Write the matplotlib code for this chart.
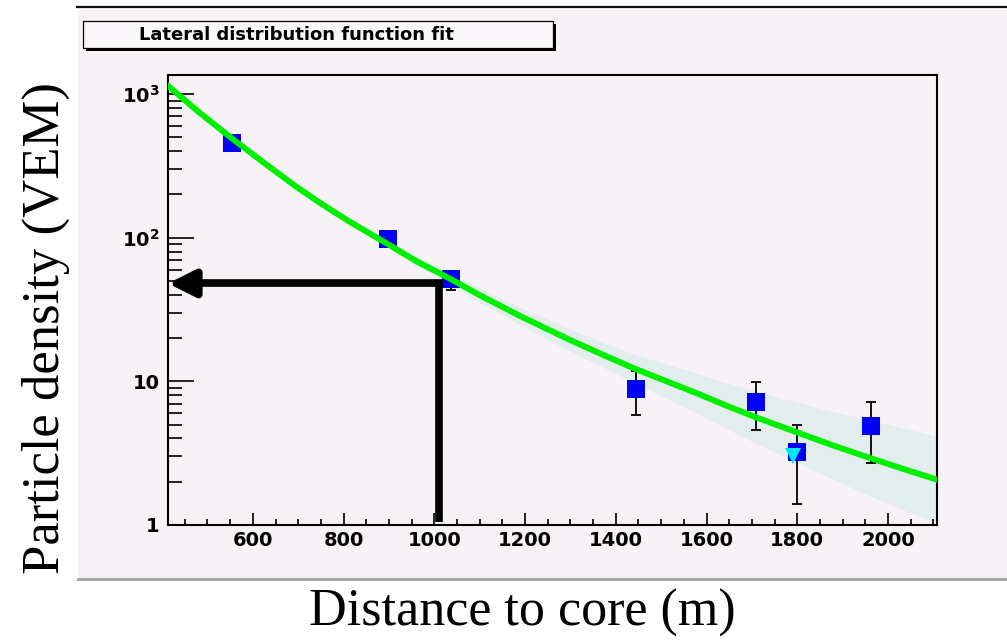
import matplotlib
matplotlib.use('Agg')
import matplotlib.pyplot as plt
from matplotlib.patches import Rectangle
from matplotlib.ticker import MultipleLocator, LogLocator, FixedLocator, FixedFormatter, NullFormatter

# station signals (blue squares) with error limits
dist = [553, 898, 1036, 1445, 1710, 1799, 1962]
signal = [456, 97.8, 51.3, 8.88, 7.21, 3.24, 4.89]
sig_low = [456, 97.8, 43.2, 5.80, 4.56, 1.39, 2.69]
sig_high = [456, 97.8, 58.6, 11.85, 9.84, 4.99, 7.14]

# saturated / special station (cyan triangle)
tri_dist = [1791]
tri_signal = [3.02]

fit_x = [413, 480, 553, 620, 696, 750, 810, 898, 960, 1036, 1100, 1189, 1299, 1380,
         1446, 1585, 1650, 1710, 1799, 1880, 1964, 2040, 2108]
fit_y = [1140, 752, 493, 340, 226, 173, 131, 90, 68.7, 51.5, 39.8, 28.5, 19.4, 14.9,
         12.1, 8.1, 6.65, 5.6, 4.42, 3.57, 2.90, 2.42, 2.07]
band_fac = [1.02, 1.02, 1.03, 1.03, 1.04, 1.04, 1.05, 1.06, 1.08, 1.10, 1.12, 1.15, 1.19, 1.22,
            1.26, 1.38, 1.45, 1.52, 1.62, 1.72, 1.84, 1.93, 2.0]

# S(1000) read-off arrow
arrow_x = 1010
arrow_y = 48

plt.rcParams['mathtext.fontset'] = 'dejavusans'

fig = plt.figure(figsize=(10.07, 6.41), dpi=100)
W, H = 1007.0, 641.0

def fx(px):
    return px / W

def fy(py):
    return 1 - py / H

# grey canvas panel + frame lines
fig.patches.append(Rectangle((fx(78), fy(579)), fx(1007) - fx(78), fy(10) - fy(579),
                             transform=fig.transFigure, facecolor='#f6f2f6', edgecolor='none', zorder=-5))
fig.add_artist(plt.Line2D([fx(77), fx(1007)], [fy(7), fy(7)], color='#111111', lw=1.6))
fig.add_artist(plt.Line2D([fx(78), fx(1007)], [fy(579), fy(579)], color='#a8a8a8', lw=2.2))

# title box with shadow
fig.patches.append(Rectangle((fx(86), fy(51)), fx(556) - fx(86), fy(24) - fy(51),
                             transform=fig.transFigure, facecolor='black', edgecolor='none', zorder=1))
fig.patches.append(Rectangle((fx(83), fy(48)), fx(553) - fx(83), fy(21) - fy(48),
                             transform=fig.transFigure, facecolor='#f9f7f9', edgecolor='black', lw=0.9, zorder=2))
fig.text(fx(296), fy(34.5), 'Lateral distribution function fit', ha='center', va='center',
         fontsize=13, fontweight='bold', family='DejaVu Sans', zorder=3)

ax = fig.add_axes([fx(168), fy(525), fx(937) - fx(168), fy(75) - fy(525)])
ax.set_facecolor('#f6f2f6')
ax.set_yscale('log')
ax.set_xlim(413, 2108)
ax.set_ylim(1, 1355)

lo = [y / f for y, f in zip(fit_y, band_fac)]
hi = [y * f for y, f in zip(fit_y, band_fac)]
ax.fill_between(fit_x, lo, hi, color='#e3eded', lw=0, zorder=1)

yerr = [[s - l for s, l in zip(signal, sig_low)], [h - s for s, h in zip(signal, sig_high)]]
ax.errorbar(dist, signal, yerr=yerr, fmt='none', ecolor='black', elinewidth=1.3, capsize=3.8,
            capthick=1.3, zorder=3)
ax.plot(dist, signal, 's', color='#0000f5', markersize=12.5, markeredgewidth=0, zorder=4)
ax.plot(fit_x, fit_y, '-', color='#00ee00', lw=4.3, zorder=5, solid_joinstyle='round')
ax.plot(tri_dist, tri_signal, 'v', color='#00e8f8', markersize=12, markeredgewidth=0, zorder=6)

# arrow: up from the axis at 1000 m, then left to the density axis
ax.plot([arrow_x, arrow_x, 460], [1.05, arrow_y, arrow_y], color='black', lw=5.5,
        solid_joinstyle='miter', solid_capstyle='butt', zorder=7)
ax.annotate('', xy=(413, arrow_y), xytext=(470, arrow_y),
            arrowprops=dict(arrowstyle='-|>,head_length=1.0,head_width=0.5', color='black',
                            lw=5.5, mutation_scale=16, shrinkA=0, shrinkB=0),
            zorder=8, annotation_clip=False)

# ticks
ax.xaxis.set_major_locator(MultipleLocator(200))
ax.xaxis.set_minor_locator(MultipleLocator(50))
ax.yaxis.set_major_locator(FixedLocator([1, 10, 100, 1000]))
ax.yaxis.set_major_formatter(FixedFormatter(['1', '10', r'$\mathbf{10^2}$', r'$\mathbf{10^3}$']))
ax.yaxis.set_minor_locator(LogLocator(base=10, subs=range(2, 10)))
ax.yaxis.set_minor_formatter(NullFormatter())
ax.tick_params(axis='x', which='major', direction='in', length=9, width=1.2, pad=4,
               labelsize=14, top=False)
ax.tick_params(axis='x', which='minor', direction='in', length=4.5, width=1.2, top=False)
ax.tick_params(axis='y', which='major', direction='in', length=19, width=1.2, pad=6,
               labelsize=14, right=False)
ax.tick_params(axis='y', which='minor', direction='in', length=10, width=1.2, right=False)
for lab in ax.get_xticklabels() + ax.get_yticklabels():
    lab.set_fontweight('bold')
    lab.set_family('DejaVu Sans')
for s in ax.spines.values():
    s.set_linewidth(1.5)

fig.text(fx(522), fy(613), 'Distance to core (m)', ha='center', va='center',
         fontsize=37.5, family='Liberation Serif')
fig.text(fx(46), fy(328), 'Particle density (VEM)', ha='center', va='center', rotation=90,
         fontsize=38, family='Liberation Serif')

fig.savefig('out.png', dpi=100, facecolor='white')
